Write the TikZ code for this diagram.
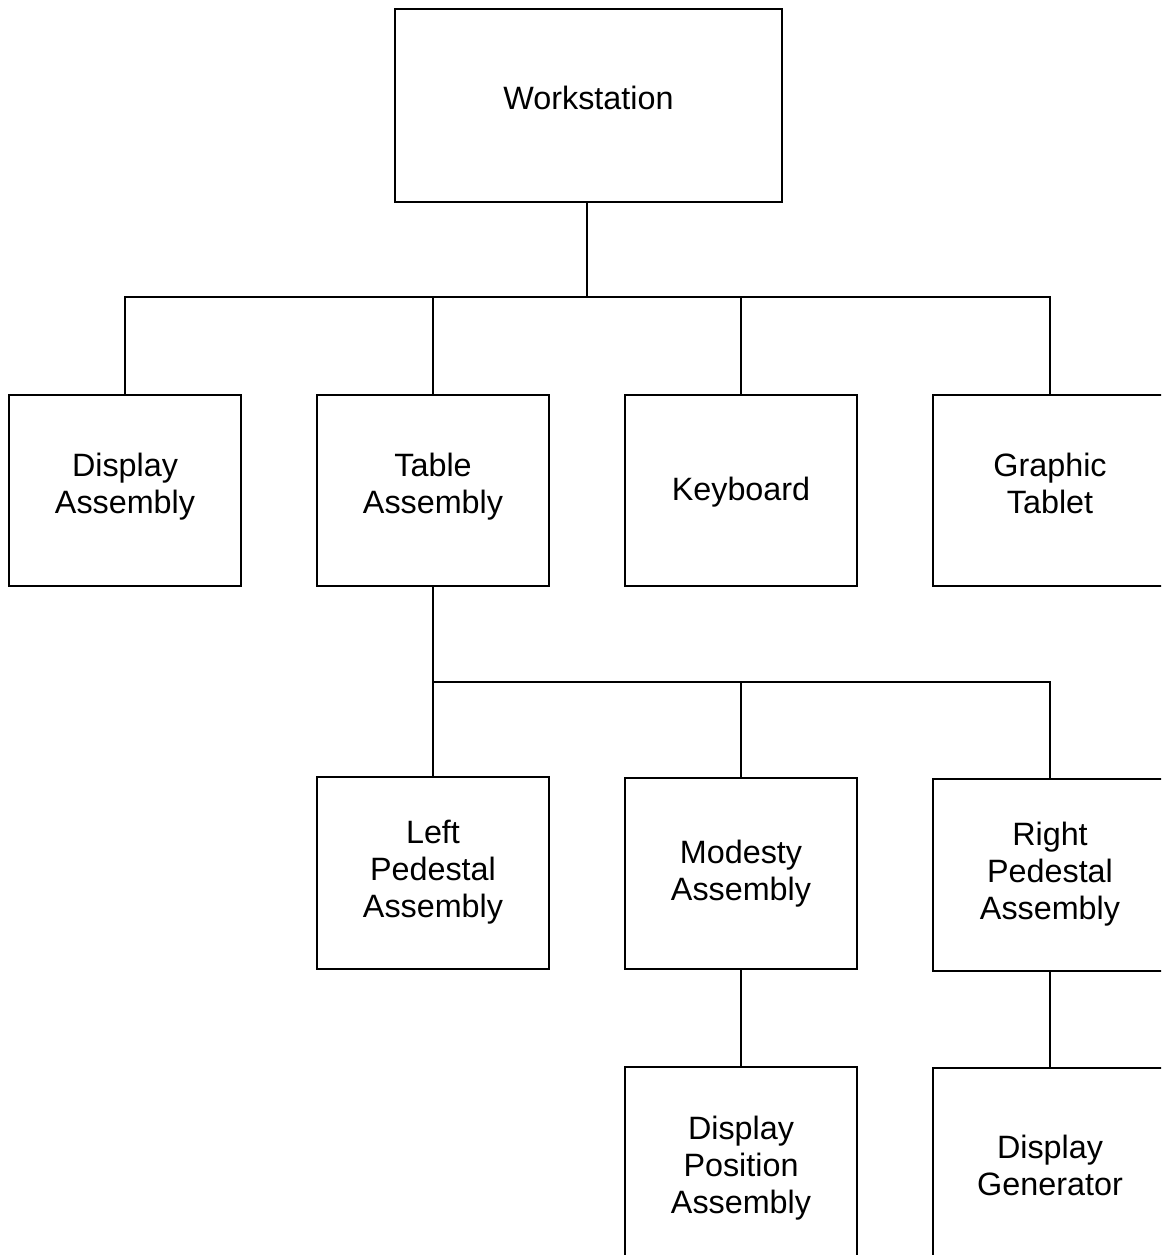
\documentclass[tikz,border=0pt]{standalone}
\usepackage{fontspec}
\setmainfont{Liberation Sans}
% centred lines of a box label, optionally raised
\newcommand\boxtext[2][0pt]{\raisebox{#1}[\height][\depth]{\begin{tabular}{@{}c@{}}#2\end{tabular}}}
\begin{document}
\begin{tikzpicture}[x=0.02cm,y=-0.02cm,
  unit/.style={draw, line width=1.1pt, inner sep=0pt,
    minimum width=4.63cm, minimum height=3.83cm,
    font=\fontsize{18.4}{21}\selectfont},
  link/.style={line width=1.1pt}]
\useasboundingbox (0,0) rectangle (1161,1255);
\clip (0,0) rectangle (1161,1255);
% top level
\node[unit, minimum width=7.74cm, minimum height=3.86cm] (ws) at (588.5,105.5) {\boxtext[0.07cm]{Workstation}};
% second level
\node[unit] (da) at (125,490.5) {\boxtext[0.06cm]{Display\\Assembly}};
\node[unit] (ta) at (433,490.5) {\boxtext[0.06cm]{Table\\Assembly}};
\node[unit] (kb) at (741,490.5) {\boxtext[-0.05cm]{Keyboard}};
\node[unit, minimum width=4.68cm] (gt) at (1050,490.5) {\boxtext[0.06cm]{Graphic\\Tablet}};
% third level
\node[unit] (lp) at (433,873) {\boxtext{Left\\Pedestal\\Assembly}};
\node[unit] (ma) at (741,873.5) {\boxtext[-0.03cm]{Modesty\\Assembly}};
\node[unit, minimum width=4.68cm] (rp) at (1050,875) {\boxtext{Right\\Pedestal\\Assembly}};
% fourth level
\node[unit, minimum height=4.08cm] (dp) at (741,1169) {\boxtext{Display\\Position\\Assembly}};
\node[unit, minimum width=4.68cm, minimum height=4.08cm] (dg) at (1050,1170) {\boxtext{Display\\Generator}};
% connectors
\coordinate (j1) at (587,297);
\coordinate (j2) at (433,682);
\draw[link] (ws.south -| j1) -- (j1);
\draw[link] (da.north) |- (j1) -| (gt.north);
\draw[link] (ta.north) -- (ta.north |- j1);
\draw[link] (kb.north) -- (kb.north |- j1);
\draw[link] (ta.south) -- (j2) -| (rp.north);
\draw[link] (lp.north) -- (j2);
\draw[link] (ma.north) -- (ma.north |- j2);
\draw[link] (ma.south) -- (dp.north);
\draw[link] (rp.south) -- (dg.north);
\end{tikzpicture}
\end{document}
